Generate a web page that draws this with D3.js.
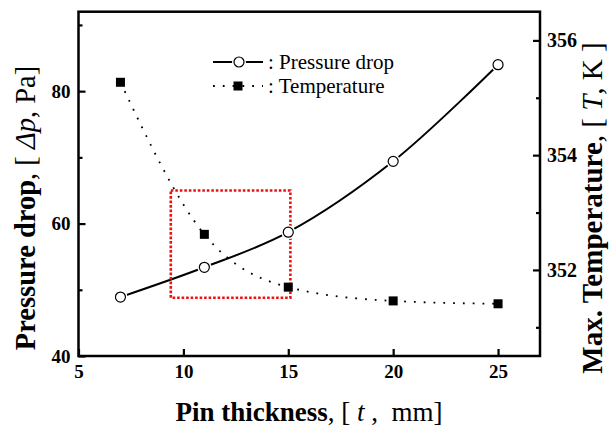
<!DOCTYPE html>
<html>
<head>
<meta charset="utf-8">
<script src="https://cdn.jsdelivr.net/npm/d3@7"></script>
<style>
  body { margin: 0; background: #fff; }
  svg text { font-family: "Liberation Serif", "Times New Roman", serif; white-space: pre; }
</style>
</head>
<body>
<div id="chart"></div>
<script>
// données
const thickness = [7, 11, 15, 20, 25];
const pressureDrop = [48.9, 53.4, 58.7, 69.4, 84.0];
const maxTemperature = [355.27, 352.62, 351.70, 351.46, 351.41];

const xTicks = [5, 10, 15, 20, 25];
const leftTicks = [40, 60, 80];
const leftMinor = [50, 70, 90];
const rightTicks = [352, 354, 356];
const rightMinor = [351, 353, 355];

// zone encadrée en rouge (t, Δp)
const boxT = [9.4, 15.1];
const boxP = [48.8, 65];

// dimensions
const W = 609, H = 427;
const plot = { left: 78.5, right: 540, top: 11.7, bottom: 356 };

const svg = d3.select("#chart")
    .append("svg")
    .attr("width", W)
    .attr("height", H);

const x = d3.scaleLinear().domain([5, 27]).range([plot.left, plot.right]);
const yL = d3.scaleLinear().domain([40, 92]).range([plot.bottom, plot.top]);
const yR = d3.scaleLinear().domain([350.5, 356.5]).range([plot.bottom, plot.top]);

/*** Axes ***/
function styleAxis(size) {
    return function(g) {
        g.select(".domain").remove();
        g.selectAll(".tick line").attr("stroke", "#000").attr("stroke-width", 2.2);
        g.selectAll(".tick text")
            .attr("fill", "#000")
            .style("font-size", size + "px")
            .style("font-weight", "bold")
            .style("font-family", "'Liberation Serif', serif");
    };
}

svg.append("g")
    .attr("transform", `translate(0, ${plot.bottom})`)
    .call(d3.axisBottom(x).tickValues(xTicks).tickSize(-7).tickPadding(9).tickFormat(d3.format("d")))
    .call(styleAxis(19));

svg.append("g")
    .attr("transform", `translate(${plot.left}, 0)`)
    .call(d3.axisLeft(yL).tickValues(leftTicks).tickSize(-7).tickPadding(8).tickFormat(d3.format("d")))
    .call(styleAxis(19));
svg.append("g")
    .attr("transform", `translate(${plot.left}, 0)`)
    .call(d3.axisLeft(yL).tickValues(leftMinor).tickSize(-4).tickFormat(""))
    .call(styleAxis(19));

svg.append("g")
    .attr("transform", `translate(${plot.right}, 0)`)
    .call(d3.axisRight(yR).tickValues(rightTicks).tickSize(-7).tickPadding(7).tickFormat(d3.format("d")))
    .call(styleAxis(20));
svg.append("g")
    .attr("transform", `translate(${plot.right}, 0)`)
    .call(d3.axisRight(yR).tickValues(rightMinor).tickSize(-4).tickFormat(""))
    .call(styleAxis(20));

// cadre
svg.append("rect")
    .attr("x", plot.left).attr("y", plot.top)
    .attr("width", plot.right - plot.left).attr("height", plot.bottom - plot.top)
    .attr("fill", "none")
    .attr("stroke", "#000")
    .attr("stroke-width", 2.5);

/*** Titres des axes ***/
const xTitle = svg.append("text")
    .attr("x", 309).attr("y", 421)
    .attr("text-anchor", "middle")
    .style("font-size", "27px");
xTitle.append("tspan").style("font-weight", "bold").text("Pin thickness");
xTitle.append("tspan").text(", [ ");
xTitle.append("tspan").style("font-style", "italic").text("t");
xTitle.append("tspan").text(" ,  mm]");

const yLTitle = svg.append("text")
    .attr("transform", "translate(35, 208) rotate(-90)")
    .attr("text-anchor", "middle")
    .style("font-size", "28.5px");
yLTitle.append("tspan").style("font-weight", "bold").text("Pressure drop");
yLTitle.append("tspan").text(", [ ");
yLTitle.append("tspan").style("font-style", "italic").text("Δp");
yLTitle.append("tspan").text(", Pa]");

const yRTitle = svg.append("text")
    .attr("transform", "translate(602, 208) rotate(-90)")
    .attr("text-anchor", "middle")
    .style("font-size", "29px");
yRTitle.append("tspan").style("font-weight", "bold").text("Max. Temperature");
yRTitle.append("tspan").text(", [ ");
yRTitle.append("tspan").style("font-style", "italic").text("T");
yRTitle.append("tspan").text(", K ]");

/*** Courbes ***/
const pts = thickness.map((t, i) => ({ t: t, p: pressureDrop[i], T: maxTemperature[i] }));

const linePressure = d3.line()
    .x(d => x(d.t))
    .y(d => yL(d.p))
    .curve(d3.curveCatmullRom);

const lineTemp = d3.line()
    .x(d => x(d.t))
    .y(d => yR(d.T))
    .curve(d3.curveMonotoneX);

svg.append("path")
    .datum(pts)
    .attr("d", lineTemp)
    .attr("fill", "none")
    .attr("stroke", "#000")
    .attr("stroke-width", 1.8)
    .attr("stroke-dasharray", "1.8,8");

svg.append("path")
    .datum(pts)
    .attr("d", linePressure)
    .attr("fill", "none")
    .attr("stroke", "#000")
    .attr("stroke-width", 2);

// cadre rouge pointillé
svg.append("rect")
    .attr("x", x(boxT[0]))
    .attr("y", yL(boxP[1]))
    .attr("width", x(boxT[1]) - x(boxT[0]))
    .attr("height", yL(boxP[0]) - yL(boxP[1]))
    .attr("fill", "none")
    .attr("stroke", "#f01010")
    .attr("stroke-width", 2.6)
    .attr("stroke-dasharray", "2.6,1.9");

// marqueurs
const sq = 9;
svg.selectAll("rect.temp")
    .data(pts)
    .join("rect")
    .attr("class", "temp")
    .attr("x", d => x(d.t) - sq / 2)
    .attr("y", d => yR(d.T) - sq / 2)
    .attr("width", sq).attr("height", sq)
    .attr("fill", "#000");

svg.selectAll("circle.halo")
    .data(pts)
    .join("circle")
    .attr("class", "halo")
    .attr("cx", d => x(d.t))
    .attr("cy", d => yL(d.p))
    .attr("r", 7)
    .attr("fill", "#fff");

svg.selectAll("circle.press")
    .data(pts)
    .join("circle")
    .attr("class", "press")
    .attr("cx", d => x(d.t))
    .attr("cy", d => yL(d.p))
    .attr("r", 5)
    .attr("fill", "#fff")
    .attr("stroke", "#000")
    .attr("stroke-width", 1.2);

/*** Légende ***/
const lx0 = 213, lx1 = 263, ly1 = 62, ly2 = 86;
svg.append("line")
    .attr("x1", lx0).attr("x2", lx1).attr("y1", ly1).attr("y2", ly1)
    .attr("stroke", "#000").attr("stroke-width", 2);
svg.append("circle")
    .attr("cx", (lx0 + lx1) / 2 + 1).attr("cy", ly1).attr("r", 7).attr("fill", "#fff");
svg.append("circle")
    .attr("cx", (lx0 + lx1) / 2 + 1).attr("cy", ly1).attr("r", 5)
    .attr("fill", "#fff").attr("stroke", "#000").attr("stroke-width", 1.2);
svg.append("line")
    .attr("x1", lx0).attr("x2", lx1).attr("y1", ly2).attr("y2", ly2)
    .attr("stroke", "#000").attr("stroke-width", 1.8)
    .attr("stroke-dasharray", "1.8,8");
svg.append("rect")
    .attr("x", (lx0 + lx1) / 2 - sq / 2).attr("y", ly2 - sq / 2)
    .attr("width", sq).attr("height", sq).attr("fill", "#000");

svg.append("text")
    .attr("x", 268).attr("y", ly1 + 7)
    .style("font-size", "21px")
    .text(": Pressure drop");
svg.append("text")
    .attr("x", 268).attr("y", ly2 + 7)
    .style("font-size", "21px")
    .text(": Temperature");
</script>
</body>
</html>
